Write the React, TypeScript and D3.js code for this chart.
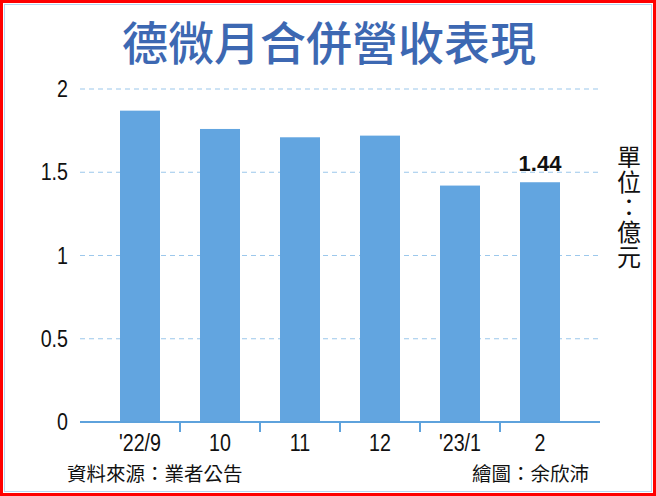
import React, { useRef, useEffect } from 'react';
import * as d3 from 'd3';

const categories = ["'22/9", '10', '11', '12', "'23/1", '2'];
const revenue = [1.87, 1.76, 1.71, 1.72, 1.42, 1.44];
const yTicks = [0, 0.5, 1, 1.5, 2];
const yTickLabels = ['0', '0.5', '1', '1.5', '2'];
const unitLabel = '單位：億元';

const W = 656;
const H = 496;
const CJK = '"Noto Sans CJK TC", "Noto Sans", sans-serif';
const NUM = '"Liberation Sans", Arial, sans-serif';

const App: React.FC = () => {
  const svgRef = useRef<SVGSVGElement>(null);

  useEffect(() => {
    if (!svgRef.current) return;
    const svg = d3.select(svgRef.current);
    svg.selectAll('*').remove();

    // frame
    svg.append('rect').attr('x', 0).attr('y', 0).attr('width', W).attr('height', H).attr('fill', '#fff');
    svg.append('rect').attr('x', 4.5).attr('y', 4.5).attr('width', W - 9).attr('height', H - 9)
      .attr('fill', 'none').attr('stroke', '#b5d6f2').attr('stroke-width', 1);
    svg.append('rect').attr('x', 1.5).attr('y', 1.5).attr('width', W - 3).attr('height', H - 3)
      .attr('fill', 'none').attr('stroke', '#ff0000').attr('stroke-width', 3);

    // title
    svg.append('text')
      .attr('x', 329).attr('y', 60)
      .attr('text-anchor', 'middle')
      .attr('fill', '#3d68b2')
      .style('font-family', CJK)
      .style('font-size', '46px')
      .style('font-weight', 500)
      .text('德微月合併營收表現');

    const x = d3.scaleBand<string>().domain(categories).range([100, 580]).paddingInner(0.5).paddingOuter(0.25);
    const y = d3.scaleLinear().domain([0, 2]).range([422, 89]);

    // gridlines
    svg.append('g').selectAll('line')
      .data(yTicks.filter(t => t > 0))
      .join('line')
      .attr('x1', 80).attr('x2', 600)
      .attr('y1', d => y(d)).attr('y2', d => y(d))
      .attr('stroke', '#9cc8ec').attr('stroke-width', 1.2)
      .attr('stroke-dasharray', '5,4');

    // y labels (condensed digits)
    svg.append('g').selectAll('text')
      .data(yTicks)
      .join('text')
      .attr('transform', d => `translate(68,${y(d) + 8}) scale(0.82,1)`)
      .attr('text-anchor', 'end')
      .style('font-family', NUM)
      .style('font-size', '24px')
      .attr('fill', '#111')
      .text((d, i) => yTickLabels[i]);

    // bars
    svg.append('g').selectAll('rect')
      .data(revenue)
      .join('rect')
      .attr('x', (d, i) => x(categories[i])!)
      .attr('width', x.bandwidth())
      .attr('y', d => y(d))
      .attr('height', d => y(0) - y(d))
      .attr('fill', '#62a5e0');

    // baseline and ticks
    svg.append('line').attr('x1', 80).attr('x2', 600).attr('y1', y(0)).attr('y2', y(0))
      .attr('stroke', '#5ea2dc').attr('stroke-width', 2);
    const step = x.step();
    svg.append('g').selectAll('line')
      .data(categories.slice(1))
      .join('line')
      .attr('x1', d => x(d)! - (step - x.bandwidth()) / 2)
      .attr('x2', d => x(d)! - (step - x.bandwidth()) / 2)
      .attr('y1', y(0)).attr('y2', y(0) + 10)
      .attr('stroke', '#5ea2dc').attr('stroke-width', 2);

    // x labels
    svg.append('g').selectAll('text')
      .data(categories)
      .join('text')
      .attr('transform', d => `translate(${x(d)! + x.bandwidth() / 2},451) scale(0.82,1)`)
      .attr('text-anchor', 'middle')
      .style('font-family', NUM)
      .style('font-size', '24px')
      .attr('fill', '#111')
      .text(d => d);

    // value label on last bar
    const last = revenue.length - 1;
    svg.append('text')
      .attr('x', x(categories[last])! + x.bandwidth() / 2)
      .attr('y', y(revenue[last]) - 11)
      .attr('text-anchor', 'middle')
      .style('font-family', NUM)
      .style('font-size', '22px')
      .style('font-weight', 'bold')
      .attr('fill', '#111')
      .text(revenue[last].toFixed(2));

    // unit, written vertically
    svg.append('text')
      .attr('x', 629)
      .attr('y', 145)
      .style('writing-mode', 'vertical-rl')
      .style('font-family', CJK)
      .style('font-size', '24px')
      .style('letter-spacing', '1px')
      .attr('fill', '#111')
      .text(unitLabel);

    // footer
    svg.append('text').attr('x', 67).attr('y', 481)
      .style('font-family', CJK).style('font-size', '19.5px').attr('fill', '#111')
      .text('資料來源：業者公告');
    svg.append('text').attr('x', 589).attr('y', 481).attr('text-anchor', 'end')
      .style('font-family', CJK).style('font-size', '19.5px').attr('fill', '#111')
      .text('繪圖：余欣沛');
  }, []);

  return (
    <div style={{ position: 'fixed', left: 0, top: 0 }}>
      <svg ref={svgRef} width={W} height={H} style={{ display: 'block' }}></svg>
    </div>
  );
};

export default App;
